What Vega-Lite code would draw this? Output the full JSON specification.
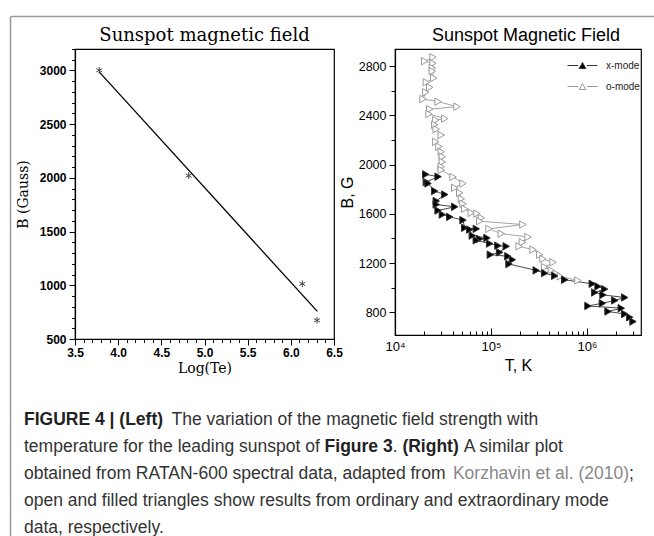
{
  "$schema": "https://vega.github.io/schema/vega-lite/v6.json",
  "padding": {"left": 7, "top": 13, "right": 0, "bottom": 0},
  "background": "white",
  "bounds": "flush",
  "spacing": 32,
  "resolve": {"scale": {"fill": "independent", "stroke": "independent"}, "legend": {"fill": "independent", "stroke": "independent"}},
  "config": {
    "view": {"stroke": null},
    "axis": {"labelColor": "black", "tickColor": "black", "domainColor": "black", "titleColor": "black", "grid": false, "labelFlush": false, "labelOverlap": false}
  },
  "vconcat": [
    {
      "width": 646,
      "height": 1,
      "layer": [
        {
          "data": {"values": [{"a": 0}]},
          "mark": {"type": "point", "opacity": 0},
          "encoding": {
            "x": {"field": "a", "type": "quantitative", "scale": {"domain": [0, 1], "range": [0, 646], "nice": false, "zero": false},
              "axis": {"orient": "top", "domainColor": "#9a9a9a", "domainWidth": 1.5, "ticks": false, "labels": false, "title": null, "grid": false}}
          }
        },
        {
          "data": {"values": [
            {"line": 1, "seg": "b0", "text": "FIGURE 4 | (Left)"},
            {"line": 1, "seg": "n1", "text": "The variation of the magnetic field strength with"},
            {"line": 2, "seg": "n0", "text": "temperature for the leading sunspot of"},
            {"line": 2, "seg": "b2", "text": "Figure 3"},
            {"line": 2, "seg": "n2", "text": "."},
            {"line": 2, "seg": "b3", "text": "(Right)"},
            {"line": 2, "seg": "n3", "text": "A similar plot"},
            {"line": 3, "seg": "n0", "text": "obtained from RATAN-600 spectral data, adapted from"},
            {"line": 3, "seg": "g1", "text": "Korzhavin et al. (2010)"},
            {"line": 3, "seg": "n4", "text": ";"},
            {"line": 4, "seg": "n0", "text": "open and filled triangles show results from ordinary and extraordinary mode"},
            {"line": 5, "seg": "n0", "text": "data, respectively."}
          ]},
          "encoding": {
            "y": {"field": "line", "type": "quantitative", "scale": {"domain": [-13.972, 5.361], "range": [0, 522], "nice": false, "zero": false},
              "axis": {"orient": "left", "domainColor": "#9a9a9a", "domainWidth": 1.5, "ticks": false, "labels": false, "title": null, "grid": false}},
            "x": {"value": 14},
            "text": {"field": "text"}
          },
          "layer": [
            {"transform": [{"filter": "datum.seg == 'n0'"}], "mark": {"type": "text", "align": "left", "baseline": "middle", "font": "Liberation Sans", "fontSize": 17.5, "color": "#333"}},
            {"transform": [{"filter": "datum.seg == 'b0'"}], "mark": {"type": "text", "align": "left", "baseline": "middle", "font": "Liberation Sans", "fontSize": 17.5, "fontWeight": "bold", "color": "#222"}},
            {"transform": [{"filter": "datum.seg == 'n1'"}], "mark": {"type": "text", "align": "left", "baseline": "middle", "font": "Liberation Sans", "fontSize": 17.5, "color": "#333", "dx": 147.5}},
            {"transform": [{"filter": "datum.seg == 'b2'"}], "mark": {"type": "text", "align": "left", "baseline": "middle", "font": "Liberation Sans", "fontSize": 17.5, "fontWeight": "bold", "color": "#222", "dx": 300.6}},
            {"transform": [{"filter": "datum.seg == 'n2'"}], "mark": {"type": "text", "align": "left", "baseline": "middle", "font": "Liberation Sans", "fontSize": 17.5, "color": "#333", "dx": 368.7}},
            {"transform": [{"filter": "datum.seg == 'b3'"}], "mark": {"type": "text", "align": "left", "baseline": "middle", "font": "Liberation Sans", "fontSize": 17.5, "fontWeight": "bold", "color": "#222", "dx": 378.4}},
            {"transform": [{"filter": "datum.seg == 'n3'"}], "mark": {"type": "text", "align": "left", "baseline": "middle", "font": "Liberation Sans", "fontSize": 17.5, "color": "#333", "dx": 439.7}},
            {"transform": [{"filter": "datum.seg == 'g1'"}], "mark": {"type": "text", "align": "left", "baseline": "middle", "font": "Liberation Sans", "fontSize": 17.5, "color": "#888", "dx": 428.9}},
            {"transform": [{"filter": "datum.seg == 'n4'"}], "mark": {"type": "text", "align": "left", "baseline": "middle", "font": "Liberation Sans", "fontSize": 17.5, "color": "#333", "dx": 604.9}}
          ]
        }
      ]
    },
    {
      "bounds": "flush",
      "spacing": 61,
      "resolve": {"scale": {"fill": "independent", "stroke": "independent"}, "legend": {"fill": "independent", "stroke": "independent"}},
      "hconcat": [
        {"width": 4, "height": 4, "data": {"values": [{}]}, "mark": {"type": "point", "opacity": 0}},
        {
          "width": 259,
          "height": 290,
          "title": {"text": "Sunspot magnetic field", "font": "DejaVu Serif", "fontSize": 18, "fontWeight": "normal", "color": "black", "offset": 4},
          "view": {"stroke": "black", "strokeWidth": 1.2},
          "resolve": {"axis": {"x": "independent", "y": "independent"}},
          "layer": [
            {
              "data": {"values": [{"logTe": 3.78, "B": 2987}, {"logTe": 6.307, "B": 757}]},
              "mark": {"type": "line", "color": "black", "strokeWidth": 1.3},
              "encoding": {
                "x": {"field": "logTe", "type": "quantitative", "scale": {"domain": [3.5, 6.5], "nice": false, "zero": false},
                  "axis": {"orient": "bottom", "values": [3.5, 4, 4.5, 5, 5.5, 6, 6.5], "format": ".1f", "title": "Log(Te)", "titleFont": "DejaVu Serif", "titleFontSize": 14, "titleFontWeight": "normal", "titlePadding": 3, "labelFont": "Liberation Sans", "labelFontWeight": "bold", "labelFontSize": 12, "tickSize": 6, "labelPadding": 2, "domainWidth": 1.2}},
                "y": {"field": "B", "type": "quantitative", "scale": {"domain": [500, 3200], "nice": false, "zero": false},
                  "axis": {"orient": "left", "values": [500, 1000, 1500, 2000, 2500, 3000], "format": "d", "title": "B (Gauss)", "titleFont": "DejaVu Serif", "titleFontSize": 14, "titleFontWeight": "normal", "titlePadding": 9, "labelFont": "Liberation Sans", "labelFontWeight": "bold", "labelFontSize": 12, "tickSize": 6, "labelPadding": 3, "domainWidth": 1.2}}
              }
            },
            {
              "data": {"values": [{"logTe": 3.78, "B": 3002}, {"logTe": 4.817, "B": 2021}, {"logTe": 6.133, "B": 1014}, {"logTe": 6.303, "B": 674}]},
              "mark": {"type": "point", "shape": "M0,-1L0,1M-0.87,-0.5L0.87,0.5M-0.87,0.5L0.87,-0.5", "size": 45, "filled": false, "color": "#444", "strokeWidth": 1, "opacity": 1},
              "encoding": {
                "x": {"field": "logTe", "type": "quantitative",
                  "axis": {"orient": "bottom", "values": [3.6, 3.7, 3.8, 3.9, 4.1, 4.2, 4.3, 4.4, 4.6, 4.7, 4.8, 4.9, 5.1, 5.2, 5.3, 5.4, 5.6, 5.7, 5.8, 5.9, 6.1, 6.2, 6.3, 6.4], "labels": false, "title": null, "domain": false, "tickSize": 3.5}},
                "y": {"field": "B", "type": "quantitative",
                  "axis": {"orient": "left", "values": [600, 700, 800, 900, 1100, 1200, 1300, 1400, 1600, 1700, 1800, 1900, 2100, 2200, 2300, 2400, 2600, 2700, 2800, 2900, 3100, 3200], "labels": false, "title": null, "domain": false, "tickSize": 3.5}}
              }
            }
          ]
        },
        {
          "width": 246,
          "height": 286,
          "title": {"text": "Sunspot Magnetic Field", "font": "Liberation Sans", "fontSize": 18, "fontWeight": "normal", "color": "black", "offset": 4, "dx": 8},
          "view": {"stroke": "black", "strokeWidth": 1.2},
          "resolve": {"axis": {"x": "independent", "y": "independent"}},
          "data": {"values": [
            {"mode": "o-mode", "i": 1, "T": 24900, "B": 2873},
            {"mode": "o-mode", "i": 2, "T": 20400, "B": 2841},
            {"mode": "o-mode", "i": 3, "T": 24900, "B": 2824},
            {"mode": "o-mode", "i": 4, "T": 24500, "B": 2786},
            {"mode": "o-mode", "i": 5, "T": 24500, "B": 2759},
            {"mode": "o-mode", "i": 6, "T": 25300, "B": 2704},
            {"mode": "o-mode", "i": 7, "T": 21200, "B": 2669},
            {"mode": "o-mode", "i": 8, "T": 23000, "B": 2628},
            {"mode": "o-mode", "i": 9, "T": 20900, "B": 2588},
            {"mode": "o-mode", "i": 10, "T": 19600, "B": 2533},
            {"mode": "o-mode", "i": 11, "T": 28100, "B": 2512},
            {"mode": "o-mode", "i": 12, "T": 44300, "B": 2471},
            {"mode": "o-mode", "i": 13, "T": 23000, "B": 2451},
            {"mode": "o-mode", "i": 14, "T": 22600, "B": 2411},
            {"mode": "o-mode", "i": 15, "T": 33000, "B": 2375},
            {"mode": "o-mode", "i": 16, "T": 26600, "B": 2362},
            {"mode": "o-mode", "i": 17, "T": 25900, "B": 2324},
            {"mode": "o-mode", "i": 18, "T": 26900, "B": 2288},
            {"mode": "o-mode", "i": 19, "T": 30300, "B": 2241},
            {"mode": "o-mode", "i": 20, "T": 26600, "B": 2185},
            {"mode": "o-mode", "i": 21, "T": 28700, "B": 2147},
            {"mode": "o-mode", "i": 22, "T": 30300, "B": 2104},
            {"mode": "o-mode", "i": 23, "T": 31100, "B": 2065},
            {"mode": "o-mode", "i": 24, "T": 31100, "B": 2022},
            {"mode": "o-mode", "i": 25, "T": 30300, "B": 1984},
            {"mode": "o-mode", "i": 26, "T": 30300, "B": 1957},
            {"mode": "o-mode", "i": 27, "T": 40200, "B": 1900},
            {"mode": "o-mode", "i": 28, "T": 51100, "B": 1847},
            {"mode": "o-mode", "i": 29, "T": 41900, "B": 1812},
            {"mode": "o-mode", "i": 30, "T": 47200, "B": 1771},
            {"mode": "o-mode", "i": 31, "T": 49100, "B": 1722},
            {"mode": "o-mode", "i": 32, "T": 51100, "B": 1682},
            {"mode": "o-mode", "i": 33, "T": 53200, "B": 1641},
            {"mode": "o-mode", "i": 34, "T": 62300, "B": 1608},
            {"mode": "o-mode", "i": 35, "T": 71500, "B": 1602},
            {"mode": "o-mode", "i": 36, "T": 79300, "B": 1567},
            {"mode": "o-mode", "i": 37, "T": 76200, "B": 1540},
            {"mode": "o-mode", "i": 38, "T": 215000, "B": 1513},
            {"mode": "o-mode", "i": 39, "T": 95300, "B": 1478},
            {"mode": "o-mode", "i": 40, "T": 128000, "B": 1439},
            {"mode": "o-mode", "i": 41, "T": 243000, "B": 1412},
            {"mode": "o-mode", "i": 42, "T": 212000, "B": 1369},
            {"mode": "o-mode", "i": 43, "T": 196000, "B": 1336},
            {"mode": "o-mode", "i": 44, "T": 274000, "B": 1309},
            {"mode": "o-mode", "i": 45, "T": 322000, "B": 1268},
            {"mode": "o-mode", "i": 46, "T": 348000, "B": 1233},
            {"mode": "o-mode", "i": 47, "T": 443000, "B": 1206},
            {"mode": "o-mode", "i": 48, "T": 362000, "B": 1167},
            {"mode": "o-mode", "i": 49, "T": 425000, "B": 1140},
            {"mode": "o-mode", "i": 50, "T": 479000, "B": 1113},
            {"mode": "o-mode", "i": 51, "T": 527000, "B": 1091},
            {"mode": "o-mode", "i": 52, "T": 805000, "B": 1059},
            {"mode": "x-mode", "i": 1, "T": 20900, "B": 1921},
            {"mode": "x-mode", "i": 2, "T": 28100, "B": 1902},
            {"mode": "x-mode", "i": 3, "T": 21200, "B": 1859},
            {"mode": "x-mode", "i": 4, "T": 22100, "B": 1847},
            {"mode": "x-mode", "i": 5, "T": 25900, "B": 1785},
            {"mode": "x-mode", "i": 6, "T": 33000, "B": 1757},
            {"mode": "x-mode", "i": 7, "T": 26900, "B": 1704},
            {"mode": "x-mode", "i": 8, "T": 26900, "B": 1676},
            {"mode": "x-mode", "i": 9, "T": 41900, "B": 1657},
            {"mode": "x-mode", "i": 10, "T": 28100, "B": 1627},
            {"mode": "x-mode", "i": 11, "T": 31100, "B": 1594},
            {"mode": "x-mode", "i": 12, "T": 37200, "B": 1575},
            {"mode": "x-mode", "i": 13, "T": 51100, "B": 1549},
            {"mode": "x-mode", "i": 14, "T": 53200, "B": 1486},
            {"mode": "x-mode", "i": 15, "T": 70300, "B": 1478},
            {"mode": "x-mode", "i": 16, "T": 60000, "B": 1472},
            {"mode": "x-mode", "i": 17, "T": 63900, "B": 1423},
            {"mode": "x-mode", "i": 18, "T": 90800, "B": 1404},
            {"mode": "x-mode", "i": 19, "T": 76200, "B": 1396},
            {"mode": "x-mode", "i": 20, "T": 70300, "B": 1385},
            {"mode": "x-mode", "i": 21, "T": 96800, "B": 1358},
            {"mode": "x-mode", "i": 22, "T": 118000, "B": 1341},
            {"mode": "x-mode", "i": 23, "T": 144000, "B": 1336},
            {"mode": "x-mode", "i": 24, "T": 123000, "B": 1287},
            {"mode": "x-mode", "i": 25, "T": 98400, "B": 1268},
            {"mode": "x-mode", "i": 26, "T": 150000, "B": 1255},
            {"mode": "x-mode", "i": 27, "T": 167000, "B": 1227},
            {"mode": "x-mode", "i": 28, "T": 154000, "B": 1192},
            {"mode": "x-mode", "i": 29, "T": 296000, "B": 1140},
            {"mode": "x-mode", "i": 30, "T": 362000, "B": 1118},
            {"mode": "x-mode", "i": 31, "T": 461000, "B": 1096},
            {"mode": "x-mode", "i": 32, "T": 586000, "B": 1064},
            {"mode": "x-mode", "i": 33, "T": 1135000, "B": 1031},
            {"mode": "x-mode", "i": 34, "T": 1303000, "B": 1010},
            {"mode": "x-mode", "i": 35, "T": 1528000, "B": 988},
            {"mode": "x-mode", "i": 36, "T": 1202000, "B": 961},
            {"mode": "x-mode", "i": 37, "T": 1468000, "B": 941},
            {"mode": "x-mode", "i": 38, "T": 2470000, "B": 920},
            {"mode": "x-mode", "i": 39, "T": 1945000, "B": 896},
            {"mode": "x-mode", "i": 40, "T": 1445000, "B": 873},
            {"mode": "x-mode", "i": 41, "T": 1023000, "B": 851},
            {"mode": "x-mode", "i": 42, "T": 2275000, "B": 833},
            {"mode": "x-mode", "i": 43, "T": 1656000, "B": 806},
            {"mode": "x-mode", "i": 44, "T": 2470000, "B": 786},
            {"mode": "x-mode", "i": 45, "T": 2786000, "B": 759},
            {"mode": "x-mode", "i": 46, "T": 3013000, "B": 724}
          ]},
          "layer": [
            {
              "mark": {"type": "line", "strokeWidth": 0.9},
              "encoding": {
                "x": {"field": "T", "type": "quantitative", "scale": {"type": "log", "domain": [10000, 3650000], "nice": false},
                  "axis": {"orient": "bottom", "values": [10000, 100000, 1000000], "labelExpr": "datum.value == 10000 ? '10⁴' : datum.value == 100000 ? '10⁵' : '10⁶'", "title": "T, K", "titleFont": "Liberation Sans", "titleFontSize": 16, "titleFontWeight": "normal", "titlePadding": 4, "labelFont": "Liberation Sans", "labelFontSize": 13, "tickSize": -7, "labelPadding": 12, "domainWidth": 1.2}},
                "y": {"field": "B", "type": "quantitative", "scale": {"domain": [615, 2940], "nice": false, "zero": false},
                  "axis": {"orient": "left", "values": [800, 1200, 1600, 2000, 2400, 2800], "format": "d", "title": "B, G", "titleFont": "Liberation Sans", "titleFontSize": 16, "titleFontWeight": "normal", "titlePadding": 3, "labelFont": "Liberation Sans", "labelFontSize": 12.5, "tickSize": 6, "labelPadding": 3, "domainWidth": 1.2}},
                "detail": {"field": "mode", "type": "nominal"},
                "stroke": {"field": "mode", "type": "nominal", "scale": {"domain": ["x-mode", "o-mode"], "range": ["#333333", "#9a9a9a"]},
                  "legend": {"title": null, "orient": "top-right", "offset": 1, "padding": 0, "symbolType": "M-1,0H-0.3M0.3,0H1M-0.22,0.2L0,-0.2L0.22,0.2Z", "symbolSize": 900, "symbolStrokeWidth": 1, "labelFont": "Liberation Sans", "labelFontSize": 10, "labelColor": "#222", "labelOffset": 8, "rowPadding": -2}},
                "order": {"field": "i", "type": "quantitative"}
              }
            },
            {
              "mark": {"type": "point", "shape": "triangle-right", "size": 55, "filled": true, "strokeWidth": 1, "opacity": 1},
              "encoding": {
                "x": {"field": "T", "type": "quantitative",
                  "axis": {"orient": "bottom", "values": [20000, 30000, 40000, 50000, 60000, 70000, 80000, 90000, 200000, 300000, 400000, 500000, 600000, 700000, 800000, 900000, 2000000, 3000000], "labels": false, "title": null, "domain": false, "tickSize": -4}},
                "y": {"field": "B", "type": "quantitative",
                  "axis": {"orient": "left", "values": [1000, 1400, 1800, 2200, 2600], "labels": false, "title": null, "domain": false, "tickSize": 4}},
                "fill": {"field": "mode", "type": "nominal", "scale": {"domain": ["x-mode", "o-mode"], "range": ["black", "white"]},
                  "legend": {"title": null, "orient": "top-right", "offset": 1, "padding": 0, "symbolType": "M-1,0H-0.3M0.3,0H1M-0.22,0.2L0,-0.2L0.22,0.2Z", "symbolSize": 900, "symbolStrokeWidth": 1, "labelFont": "Liberation Sans", "labelFontSize": 10, "labelColor": "#222", "labelOffset": 8, "rowPadding": -2}},
                "stroke": {"field": "mode", "type": "nominal",
                  "legend": {"title": null, "orient": "top-right", "offset": 1, "padding": 0, "symbolType": "M-1,0H-0.3M0.3,0H1M-0.22,0.2L0,-0.2L0.22,0.2Z", "symbolSize": 900, "symbolStrokeWidth": 1, "labelFont": "Liberation Sans", "labelFontSize": 10, "labelColor": "#222", "labelOffset": 8, "rowPadding": -2}}
              }
            }
          ]
        }
      ]
    }
  ]
}
